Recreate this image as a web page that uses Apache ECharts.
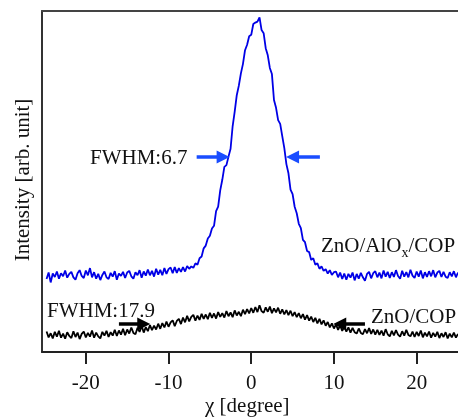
<!DOCTYPE html>
<html><head><meta charset="utf-8">
<script src="https://cdn.jsdelivr.net/npm/echarts@6/dist/echarts.min.js"></script>
<style>html,body{margin:0;padding:0;background:#fff;}#c{width:458px;height:419px;}</style>
</head><body><div id="c"></div>
<script>
// chi grid: measured every 0.25 degree starting at -24.75
const chiStart = -24.75;
const chiStep = 0.25;

// ZnO/AlOx/COP (blue) intensity
const blueIntensity = [
 21.4,23.3,20.4,23.0,22.0,23.6,21.5,23.1,22.2,23.9,
 21.8,22.9,23.5,21.9,21.2,23.1,24.0,22.3,21.7,23.9,
 22.5,24.6,21.9,23.4,21.5,22.9,21.1,22.6,23.6,21.9,
 21.4,23.2,22.1,23.7,21.2,23.0,22.3,23.5,21.7,23.3,
 23.8,22.2,21.5,23.4,22.5,24.0,21.8,23.6,22.4,24.2,
 22.5,23.8,22.1,24.4,22.7,24.1,22.5,24.6,22.9,24.3,
 24.8,23.1,24.9,
 23.2,24.6,23.5,24.9,23.6,25.2,24.4,25.1,24.7,26.0,
 25.6,27.5,28.0,30.4,31.2,33.3,34.1,36.2,37.0,41.3,
 42.6,47.4,50.5,54.3,54.8,57.3,59.6,66.2,70.5,75.3,
 78.1,81.7,84.5,88.5,90.1,92.6,93.0,96.2,96.6,96.9,
 98.1,94.4,93.5,89.1,87.0,83.3,81.5,73.9,71.6,68.0,
 66.9,63.3,59.8,55.1,52.4,47.6,46.3,42.6,40.7,37.6,
 36.3,32.9,32.2,29.6,29.3,27.0,27.5,25.6,26.0,24.4,
 25.1,23.8,24.3,23.0,24.0,22.6,23.4,
 23.6,21.9,23.3,21.4,23.0,21.2,22.9,21.8,23.3,21.0,
 22.9,21.5,23.2,21.9,20.9,22.9,23.5,21.6,23.1,23.7,
 21.9,23.3,21.6,23.9,22.1,23.5,21.7,23.4,22.0,24.0,
 22.3,21.5,23.8,22.1,23.4,21.9,24.1,22.4,21.7,23.6,
 22.1,23.9,21.6,23.4,22.0,23.7,22.2,24.0,21.9,23.3,
 23.8,22.0,23.5,22.1,21.7,23.4,22.2,23.7,21.9,23.3
];

// ZnO/COP (black) intensity
const blackIntensity = [
 6.0,4.3,5.5,4.0,5.9,4.5,6.2,4.2,5.4,3.9,5.8,4.7,4.1,6.1,4.4,5.7,
 3.8,5.3,6.0,4.3,5.6,4.5,6.3,4.2,5.7,4.6,4.0,5.9,4.8,6.2,4.4,5.8,
 4.8,6.5,4.7,6.3,5.1,6.8,4.9,6.6,5.4,7.2,5.6,5.2,7.1,5.9,7.6,5.7,
 7.3,6.1,7.9,6.4,7.7,6.6,8.3,6.8,8.5,7.2,8.9,7.4,8.7,9.3,7.6,9.1,
 9.7,8.2,10.1,8.7,10.6,9.0,10.3,10.9,9.2,10.7,9.4,11.2,9.7,11.0,9.6,11.5,
 10.0,11.3,9.8,11.7,10.3,11.4,10.1,12.0,10.5,11.6,10.2,12.2,10.7,11.8,10.5,12.4,
 11.1,12.6,11.3,12.9,11.5,13.2,11.7,13.7,12.0,11.5,13.1,11.8,13.3,11.4,12.8,11.6,
 13.0,11.2,12.5,11.0,12.3,10.8,12.1,10.5,11.7,10.2,11.4,9.9,11.1,9.5,10.8,9.2,
 10.4,8.8,10.0,8.4,9.7,8.1,9.3,7.7,8.8,7.2,8.4,6.9,8.1,6.5,7.8,6.2,
 7.4,6.0,7.2,5.7,7.1,5.8,5.4,6.9,5.6,5.2,6.7,5.5,7.0,5.3,6.6,5.1,
 6.5,5.0,6.3,4.8,6.7,5.2,4.6,6.2,4.9,6.4,5.1,4.5,6.1,4.8,6.5,5.0,
 4.6,6.0,4.4,5.9,4.7,6.3,4.3,5.7,4.6,6.0,4.2,5.6,4.5,5.9,4.1,5.5,
 4.4,5.8,4.0,5.4,4.3,5.7,4.2,5.3
];

const xTicks = [-20, -10, 0, 10, 20];
const xMin = -25.3, xMax = 25;

// FWHM arrows [tail, head] in data coordinates
const blueArrows = [[[-6.6, 57.2], [-3.4, 57.2]], [[8.3, 57.2], [5.0, 57.2]]];
const blackArrows = [[[-16.0, 8.2], [-13.0, 8.2]], [[13.75, 8.2], [10.7, 8.2]]];

const serif = '"Liberation Serif", "Times New Roman", serif';

function pairs(vals) {
  return vals.map((v, i) => [chiStart + i * chiStep, v]);
}
function arrowData(arr) {
  return arr.map(a => [{coord: a[0]}, {coord: a[1]}]);
}

const chart = echarts.init(document.getElementById('c'), null, {renderer: 'canvas'});
chart.setOption({
  animation: false,
  grid: {left: 42, right: 0, top: 11, bottom: 67},
  xAxis: [{
    type: 'value', min: xMin, max: xMax, position: 'bottom',
    axisLine: {show: true, onZero: false, lineStyle: {color: '#222', width: 2}},
    axisTick: {show: true, inside: false, length: 12, customValues: xTicks, lineStyle: {color: '#222', width: 2}},
    axisLabel: {customValues: xTicks, fontSize: 21, fontFamily: serif, color: '#111', margin: 21},
    splitLine: {show: false}
  }, {
    type: 'value', min: xMin, max: xMax, position: 'top',
    axisLine: {show: true, onZero: false, lineStyle: {color: '#444', width: 2}},
    axisTick: {show: false}, axisLabel: {show: false}, splitLine: {show: false}
  }],
  yAxis: {
    type: 'value', min: 0, max: 100,
    axisLine: {show: true, onZero: false, lineStyle: {color: '#333', width: 2}},
    axisTick: {show: false}, axisLabel: {show: false}, splitLine: {show: false}
  },
  series: [{
    name: 'ZnO/COP', type: 'line', showSymbol: false, silent: true,
    data: pairs(blackIntensity),
    lineStyle: {color: '#000', width: 1.8},
    markLine: {
      silent: true, symbol: ['none', 'triangle'], symbolSize: 13,
      label: {show: false},
      lineStyle: {color: '#000', width: 3.5, type: 'solid'},
      data: arrowData(blackArrows)
    }
  }, {
    name: 'ZnO/AlOx/COP', type: 'line', showSymbol: false, silent: true,
    data: pairs(blueIntensity),
    lineStyle: {color: '#0000e6', width: 1.8},
    markLine: {
      silent: true, symbol: ['none', 'triangle'], symbolSize: 13,
      label: {show: false},
      lineStyle: {color: '#1a4dff', width: 3.5, type: 'solid'},
      data: arrowData(blueArrows)
    }
  }],
  graphic: [
    {type: 'text', x: 90, y: 158, style: {text: 'FWHM:6.7', font: '21px ' + serif, fill: '#111', align: 'left', verticalAlign: 'middle'}},
    {type: 'text', x: 47, y: 311, style: {text: 'FWHM:17.9', font: '21px ' + serif, fill: '#111', align: 'left', verticalAlign: 'middle'}},
    {type: 'text', x: 321, y: 246, style: {
      text: '{n|ZnO/AlO}{s|x}{n|/COP}', align: 'left', verticalAlign: 'middle',
      rich: {
        n: {fontSize: 21, fontFamily: serif, fill: '#111', lineHeight: 28},
        s: {fontSize: 14, fontFamily: serif, fill: '#111', lineHeight: 28, verticalAlign: 'bottom'}
      }}},
    {type: 'text', x: 371, y: 317, style: {text: 'ZnO/COP', font: '21px ' + serif, fill: '#111', align: 'left', verticalAlign: 'middle'}},
    {type: 'text', x: 205, y: 406, style: {text: 'χ [degree]', font: '21px ' + serif, fill: '#111', align: 'left', verticalAlign: 'middle'}},
    {type: 'text', x: 23, y: 180, rotation: Math.PI / 2, style: {text: 'Intensity [arb. unit]', font: '21px ' + serif, fill: '#111', align: 'center', verticalAlign: 'middle'}}
  ]
});
</script>
</body></html>
